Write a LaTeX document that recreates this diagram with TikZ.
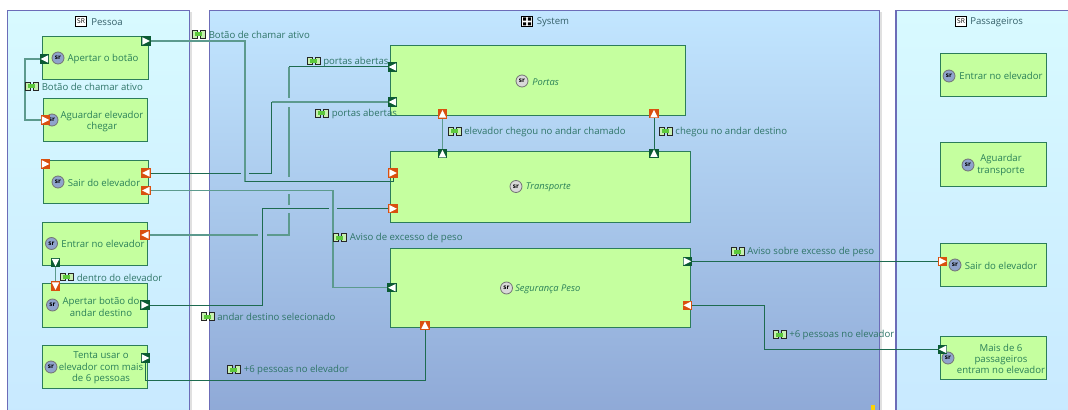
\documentclass[tikz,border=0pt]{standalone}
\usepackage{fontspec}
\setmainfont{Open Sans}
\definecolor{boxfill}{HTML}{C5FF9F}
\definecolor{boxline}{HTML}{2C7D5A}
\definecolor{conndark}{HTML}{1E6B50}
\definecolor{connsoft}{HTML}{5C9A8E}
\definecolor{lbltext}{HTML}{2F7568}
\definecolor{boxtext}{HTML}{2A8058}
\definecolor{titletext}{HTML}{35606A}
\definecolor{frameline}{HTML}{6C6CB8}
\definecolor{portgreen}{HTML}{0B5B33}
\definecolor{portorange}{HTML}{D9500F}
\definecolor{iconfill}{HTML}{5CC83C}
\definecolor{iconpale}{HTML}{C8F0B0}
\definecolor{sridot}{HTML}{8FA3CC}
\definecolor{sidetop}{HTML}{D8FAFF}
\definecolor{sidebot}{HTML}{C8E9FF}
\definecolor{systop}{HTML}{C2E6FF}
\definecolor{sysbot}{HTML}{8EA8D6}
\tikzset{
  frame/.style={draw=frameline,line width=0.8pt},
  blockbox/.style={draw=boxline,fill=boxfill,line width=0.75pt,inner sep=0pt,outer sep=0pt},
  conn/.style={draw=conndark,line width=0.75pt},
  connlight/.style={draw=connsoft,line width=1.05pt},
  portg/.style={fill=portgreen,inner sep=0pt,outer sep=0pt,minimum size=6.8pt},
  porto/.style={fill=portorange,inner sep=0pt,outer sep=0pt,minimum size=6.8pt},
  lbl/.style={anchor=west,inner sep=0pt,yshift=-0.5pt,text=lbltext,font=\fontsize{7.2}{8}\selectfont},
  boxlabel/.style={inner sep=0pt,yshift=-0.3pt,text=boxtext,align=center,font=\fontsize{7.2}{8.6}\selectfont},
  implabel/.style={anchor=west,inner sep=0pt,yshift=-0.5pt,text=boxtext,font=\fontsize{7}{8}\itshape\selectfont},
  titlelabel/.style={anchor=west,inner sep=0pt,yshift=-0.3pt,text=titletext,font=\fontsize{7.2}{8}\selectfont},
  sric/.style={circle,draw=black!55,fill=#1,line width=0.6pt,inner sep=0pt,minimum size=9pt,text=black,font=\fontsize{4.8}{5}\bfseries\selectfont},
}
\newcommand{\prt}[5]{% name x y style angle
  \node[#4] (#1) at (#2,#3) {};
  \fill[white,shift={(#1.center)},rotate=#5] (-2.7pt,-2.8pt) -- (-2.7pt,2.8pt) -- (2.9pt,0pt) -- cycle;
}
\newcommand{\blk}[5]{% name x1 y1 x2 y2
  \node[blockbox,minimum width={(#4-#2)*0.75pt},minimum height={(#5-#3)*0.75pt}] (#1) at ({(#2+#4)/2},{(#3+#5)/2}) {};
}
\newcommand{\flowlabel}[4]{% name iconx y text
  \filldraw[fill=iconpale,draw=black!85,line width=0.6pt] ({#2-6.5},{#3-3.7}) rectangle ({#2-1.5},{#3+3.7});
  \filldraw[fill=iconpale,draw=black!85,line width=0.6pt] ({#2+1.5},{#3-3.7}) rectangle ({#2+6.5},{#3+3.7});
  \fill[iconfill] ({#2-4},{#3-2}) rectangle ({#2+3},{#3+2});
  \node[lbl] (#1) at ({#2+9.5},#3) {#4};
}
\newcommand{\sr}[4][sridot]{\node[sric={#1}] (#2) at (#3,#4) {sr};}
\newcommand{\titleicon}[3]{%
  \node[draw=black,fill=white,line width=0.5pt,inner sep=0pt,minimum width=8.6pt,minimum height=7.6pt,font=\fontsize{5}{5}\selectfont] (#1) at (#2,#3) {SR};
}
\begin{document}
\begin{tikzpicture}[x=0.75pt,y=-0.75pt]
\useasboundingbox (0,0) rectangle (1068,410);
\clip (0,0) rectangle (1068,410);
\fill[white] (0,0) rectangle (1068,410);

% containers
\fill[black!12] (189.5,12) rectangle (191.5,420);
\fill[black!12] (879.5,12) rectangle (882,420);
\shade[top color=sidetop,bottom color=sidebot] (7.5,10.5) rectangle (189.5,420);
\draw[frame] (7.5,420) -- (7.5,10.5) -- (189.5,10.5) -- (189.5,420);
\shade[top color=systop,bottom color=sysbot] (209.5,10.5) rectangle (879.5,420);
\draw[frame] (209.5,420) -- (209.5,10.5) -- (879.5,10.5) -- (879.5,420);
\shade[top color=sidetop,bottom color=sidebot] (896,10.5) rectangle (1075,420);
\draw[frame] (896,420) -- (896,10.5) -- (1075,10.5);

% titles
\titleicon{tp}{81}{21}
\node[titlelabel] (tpl) at (91,21.5) {Pessoa};
\node[draw=black,fill=white,line width=0.5pt,minimum width=8.6pt,minimum height=7.6pt,inner sep=0pt] (ts) at (527,21.5) {};
\fill[black] (523,17.5) rectangle (526.2,20.7) (527.8,17.5) rectangle (531,20.7) (523,22.3) rectangle (526.2,25.5) (527.8,22.3) rectangle (531,25.5);
\node[titlelabel] (tsl) at (536.5,21.5) {System};
\titleicon{tq}{961}{21}
\node[titlelabel] (tql) at (970,21.5) {Passageiros};

% blocks
\blk{a1}{42.5}{37}{148}{80}
\blk{a2}{43.5}{98.5}{147.5}{141.5}
\blk{a3}{43.5}{160}{148.5}{203}
\blk{a4}{42.5}{222}{147.5}{265}
\blk{a5}{42.5}{283}{147.5}{327}
\blk{a6}{42.5}{345.5}{147.5}{388.5}
\blk{s1}{390}{45.5}{685.5}{116}
\blk{s2}{390}{151.5}{690}{222}
\blk{s3}{390}{248.5}{690}{327.5}
\blk{q1}{940.5}{54}{1046.5}{97}
\blk{q2}{940.5}{142}{1046.5}{186}
\blk{q3}{940.5}{243}{1046.5}{286.5}
\blk{q4}{940.5}{336}{1046.5}{379.5}

% block icons and texts
\sr{ia1}{58}{58}
\node[boxlabel] (la1) at (103,58.5) {Apertar o botão};
\sr{ia2}{52}{120}
\node[boxlabel] (la2) at (102,121) {Aguardar elevador\\chegar};
\sr{ia3}{58}{182}
\node[boxlabel] (la3) at (104,182) {Sair do elevador};
\sr{ia4}{51.5}{243.5}
\node[boxlabel] (la4) at (103,243.5) {Entrar no elevador};
\sr{ia5}{52.5}{305}
\node[boxlabel] (la5) at (101,306.5) {Apertar botão do\\andar destino};
\sr{ia6}{51}{367}
\node[boxlabel] (la6) at (101,367.5) {Tenta usar o\\elevador com mais\\de 6 pessoas};
\sr[black!15]{is1}{522}{81}
\node[implabel] (ls1) at (532,81.5) {Portas};
\sr[black!15]{is2}{516}{186.5}
\node[implabel] (ls2) at (525.5,187) {Transporte};
\sr[black!15]{is3}{506.5}{288}
\node[implabel] (ls3) at (515,288.5) {Segurança Peso};
\sr{iq1}{949}{76}
\node[boxlabel] (lq1) at (1001,76) {Entrar no elevador};
\sr{iq2}{968}{165}
\node[boxlabel] (lq2) at (1001,164.5) {Aguardar\\transporte};
\sr{iq3}{955}{265}
\node[boxlabel] (lq3) at (1001,265) {Sair do elevador};
\sr{iq4}{948}{358}
\node[boxlabel] (lq4) at (1001,358.5) {Mais de 6\\passageiros\\entram no elevador};

% ports
\prt{pa1r}{146}{41}{portg}{0}
\prt{pa1l}{44.5}{59}{portg}{180}
\prt{pa2}{45.5}{120}{porto}{0}
\prt{pa3t}{45.5}{164}{porto}{0}
\prt{pa3a}{146}{173}{porto}{180}
\prt{pa3b}{146}{190.5}{porto}{180}
\prt{pa4r}{145}{235}{porto}{180}
\prt{pa4d}{55.5}{262.5}{portg}{-90}
\prt{pa5u}{55.5}{286}{porto}{-90}
\prt{pa5r}{145}{305}{portg}{0}
\prt{pa6}{145.5}{358}{portg}{0}
\prt{ps1a}{392.5}{67}{portg}{180}
\prt{ps1b}{392.5}{102}{portg}{180}
\prt{ps1c}{442.5}{114}{porto}{90}
\prt{ps1d}{654}{113.7}{porto}{90}
\prt{ps2a}{442.5}{153.7}{portg}{90}
\prt{ps2b}{654}{153.3}{portg}{90}
\prt{ps2c}{393}{173}{porto}{0}
\prt{ps2d}{393}{208.7}{porto}{0}
\prt{ps3a}{392}{287.7}{portg}{180}
\prt{ps3b}{425}{325.3}{porto}{90}
\prt{ps3c}{687.3}{261.3}{portg}{0}
\prt{ps3d}{687.3}{305.3}{porto}{180}
\prt{pq3}{942.7}{261.3}{porto}{0}
\prt{pq4}{942.7}{349.3}{portg}{180}

% connector bend points
\coordinate (c1a) at (245,41);
\coordinate (c1b) at (245,181.7);
\coordinate (c1c) at (393,181.7);
\coordinate (c2a) at (25,59);
\coordinate (c2b) at (25,120);
\coordinate (c3g1) at (240.5,173);
\coordinate (c3g2) at (249.3,173);
\coordinate (c3a) at (271.6,173);
\coordinate (c3b) at (271.6,102);
\coordinate (c4a) at (333,190.5);
\coordinate (c4g1) at (333,287.7);
\coordinate (c5g1) at (258,235);
\coordinate (c5g2) at (267,235);
\coordinate (c5a) at (289,235);
\coordinate (c5v1) at (289,213);
\coordinate (c5v2) at (289,205);
\coordinate (c5v3) at (289,194.3);
\coordinate (c5v4) at (289,176.7);
\coordinate (c5v5) at (289,107);
\coordinate (c5v6) at (289,98);
\coordinate (c5b) at (289,67);
\coordinate (c6a) at (262.3,305);
\coordinate (c6b) at (262.3,208.7);
\coordinate (c6g1) at (329,208.7);
\coordinate (c6g2) at (337,208.7);
\coordinate (c8a) at (145.5,380);
\coordinate (c8b) at (425,380);
\coordinate (c12a) at (764.5,305.3);
\coordinate (c12b) at (764.5,349.3);

% connectors
\draw[connlight] (pa1r) -- (c1a) -- (c1b);
\draw[conn] (c1b) -- (c1c) -- (ps2c);
\draw[connlight] (pa1l) -- (c2a) -- (c2b) -- (pa2);
\draw[conn] (pa3a) -- (c3g1) (c3g2) -- (c3a) -- (c3b);
\draw[connlight] (c3b) -- (ps1b);
\draw[connlight] (pa3b) -- (c4a) -- (c4g1) -- (ps3a);
\draw[connlight] (pa4r) -- (c5g1) (c5g2) -- (c5a) -- (c5v1) (c5v2) -- (c5v3) (c5v4) -- (c5v5) (c5v6) -- (c5b);
\draw[conn] (c5b) -- (ps1a);
\draw[conn] (pa5r) -- (c6a) -- (c6b) -- (c6g1) (c6g2) -- (ps2d);
\draw[connlight] (pa4d) -- (pa5u);
\draw[conn] (pa6) -- (c8a) -- (c8b) -- (ps3b);
\draw[connlight] (ps1c) -- (ps2a);
\draw[conn] (ps1d) -- (ps2b);
\draw[conn] (ps3c) -- (pq3);
\draw[conn] (ps3d) -- (c12a) -- (c12b) -- (pq4);

% connector labels
\flowlabel{f1}{199}{34.5}{Botão de chamar ativo}
\flowlabel{f2}{32}{86.5}{Botão de chamar ativo}
\flowlabel{f3}{313.5}{61}{portas abertas}
\flowlabel{f4}{322}{113.5}{portas abertas}
\flowlabel{f5}{454.5}{131.5}{elevador chegou no andar chamado}
\flowlabel{f6}{665.7}{131.5}{chegou no andar destino}
\flowlabel{f7}{340}{237.5}{Aviso de excesso de peso}
\flowlabel{f8}{67}{277}{dentro do elevador}
\flowlabel{f9}{207.5}{316.5}{andar destino selecionado}
\flowlabel{f10}{234}{369.5}{+6 pessoas no elevador}
\flowlabel{f11}{737.5}{251.5}{Aviso sobre excesso de peso}
\flowlabel{f12}{779.5}{334.5}{+6 pessoas no elevador}

% resize mark at the corner of System
\fill[yellow!70!orange] (871,405) rectangle (875,410);
\end{tikzpicture}
\end{document}
